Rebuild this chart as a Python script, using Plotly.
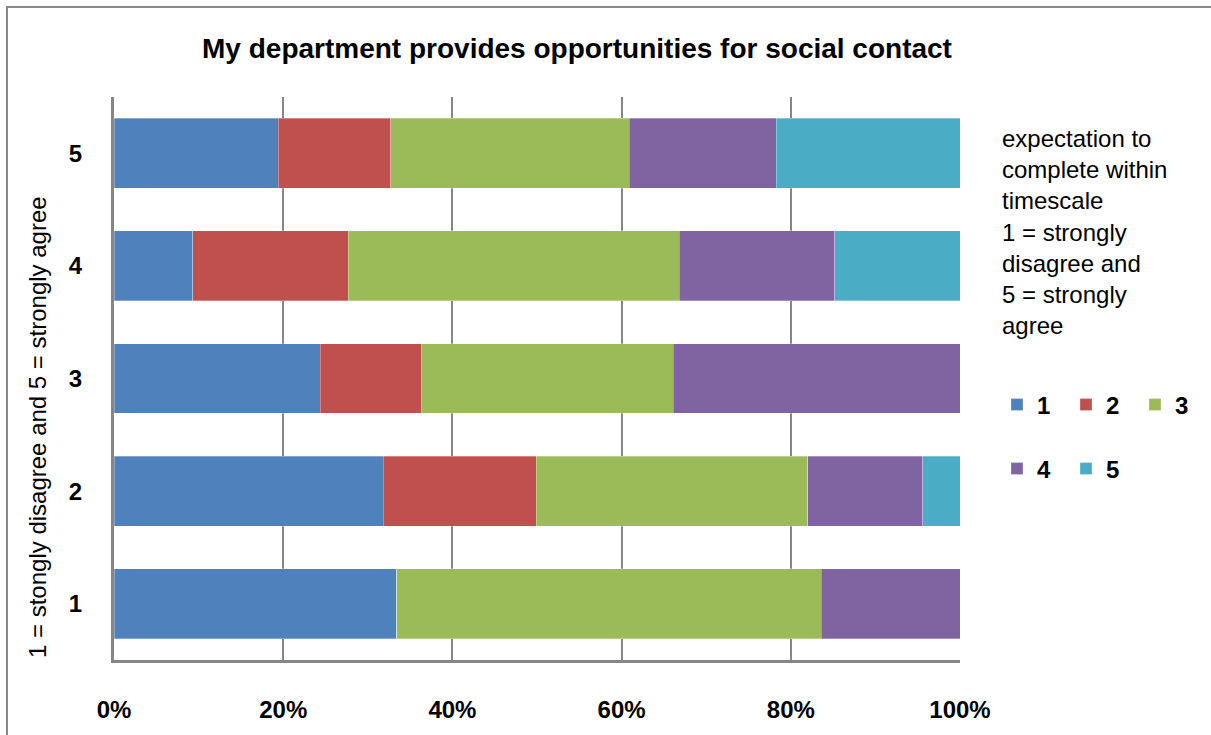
import plotly.graph_objects as go

categories = ["1", "2", "3", "4", "5"]
series_names = ["1", "2", "3", "4", "5"]
s1 = [33.4, 31.8, 24.4, 9.3, 19.4]
s2 = [0.0, 18.1, 12.0, 18.4, 13.3]
s3 = [50.2, 32.1, 29.7, 39.1, 28.2]
s4 = [16.4, 13.6, 33.9, 18.4, 17.4]
s5 = [0.0, 4.4, 0.0, 14.8, 21.7]
colors = ["#4F81BD", "#C0504D", "#9BBB59", "#8064A2", "#4BACC6"]
x_ticks = [0, 20, 40, 60, 80, 100]
x_tick_labels = ["0%", "20%", "40%", "60%", "80%", "100%"]
title_text = "My department provides opportunities for social contact"
y_title = "1 = stongly disagree and 5 = strongly agree"
legend_note = ["expectation to", "complete within", "timescale", "1 = strongly",
               "disagree and", "5 = strongly", "agree"]

FONT = "Liberation Sans"
W, H = 1211, 735
L, R, T, B = 114, 960, 97, 660
PW, PH = R - L, B - T


def px_x(p):
    return (p - L) / PW


def px_y(p):
    return (B - p) / PH


fig = go.Figure()
all_series = [s1, s2, s3, s4, s5]
for i, (name, vals) in enumerate(zip(series_names, all_series)):
    fig.add_trace(go.Bar(
        y=categories, x=vals, name=name, orientation="h",
        marker=dict(color=colors[i], line=dict(color="rgba(255,255,255,0.5)", width=0.6)),
        legend="legend" if i < 3 else "legend2",
        hoverinfo="x+name",
    ))

annotations = [
    dict(text=y_title, xref="paper", yref="paper", x=px_x(37), y=px_y(427),
         textangle=-90, showarrow=False, font=dict(family=FONT, size=24, color="#000"),
         xanchor="center", yanchor="middle"),
    dict(text="<br>".join(legend_note), xref="paper", yref="paper", x=px_x(1000),
         y=px_y(232), showarrow=False, xanchor="left", yanchor="middle", align="left",
         font=dict(family=FONT, size=24, color="#000")),
]

legend_common = dict(orientation="h", xanchor="left", yanchor="middle",
                     entrywidth=24, font=dict(family=FONT, size=24, color="#000", weight="bold"),
                     bgcolor="rgba(0,0,0,0)", traceorder="normal")

fig.update_layout(
    width=W, height=H,
    margin=dict(l=L, r=W - R, t=T, b=H - B, autoexpand=False),
    paper_bgcolor="white", plot_bgcolor="white",
    barmode="stack", bargap=0.38,
    title=dict(text="<b>" + title_text + "</b>", x=px_x(577), xref="paper",
               xanchor="center", y=1 - 48 / H, yref="container", yanchor="middle",
               font=dict(family=FONT, size=28, color="#000")),
    xaxis=dict(range=[0, 100], tickvals=x_ticks, ticktext=["<b>%s</b>" % t for t in x_tick_labels],
               showgrid=True, gridcolor="#868686", gridwidth=2,
               showline=True, linecolor="#868686", linewidth=3,
               ticks="", ticklabelstandoff=26, zeroline=False,
               tickfont=dict(family=FONT, size=24, color="#000")),
    yaxis=dict(type="category", categoryorder="array", categoryarray=categories,
               tickvals=categories, ticktext=["<b>%s</b>" % c for c in categories],
               showgrid=False, showline=True, linecolor="#868686", linewidth=3,
               ticks="", ticklabelstandoff=24,
               tickfont=dict(family=FONT, size=24, color="#000")),
    legend=dict(x=px_x(997), y=px_y(405), **legend_common),
    legend2=dict(x=px_x(997), y=px_y(469), **legend_common),
    annotations=annotations,
    shapes=[dict(type="rect", xref="paper", yref="paper",
                 x0=px_x(7), x1=px_x(1240), y0=px_y(760), y1=px_y(7),
                 line=dict(color="#888888", width=2), fillcolor="rgba(0,0,0,0)", layer="below")],
    showlegend=True,
)

fig.write_html("out.html")
